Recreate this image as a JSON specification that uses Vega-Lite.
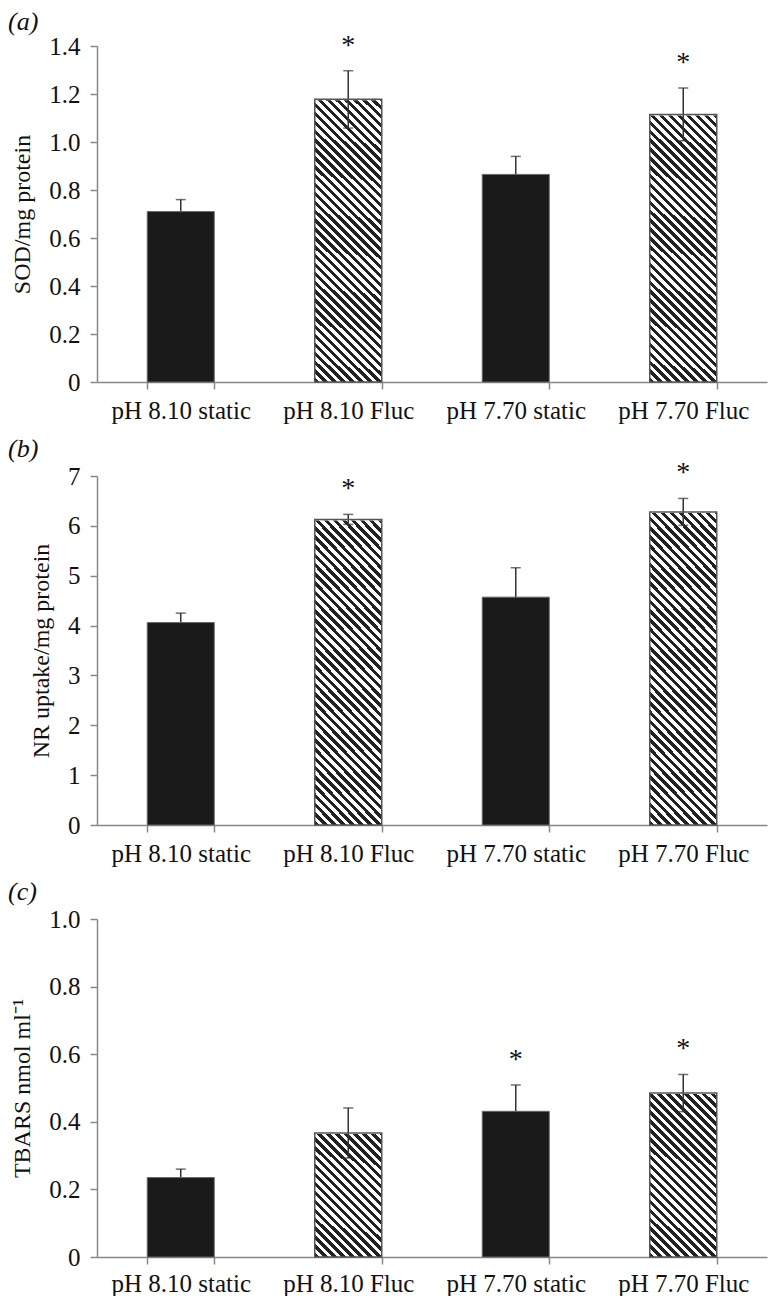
{
"$schema": "https://vega.github.io/schema/vega-lite/v6.json",
"padding": {"left": 8, "top": 8, "right": 3, "bottom": 0},
"params": [{"name": "hatch", "value": {"gradient": "linear", "x1": 0, "y1": 1, "x2": 0.2507, "y2": -0.2723, "stops": [
{"offset":0,"color":"#222"},{"offset":0.01,"color":"#222"},{"offset":0.01,"color":"#fff"},{"offset":0.02,"color":"#fff"},
{"offset":0.02,"color":"#222"},{"offset":0.03,"color":"#222"},{"offset":0.03,"color":"#fff"},{"offset":0.04,"color":"#fff"},
{"offset":0.04,"color":"#222"},{"offset":0.05,"color":"#222"},{"offset":0.05,"color":"#fff"},{"offset":0.06,"color":"#fff"},
{"offset":0.06,"color":"#222"},{"offset":0.07,"color":"#222"},{"offset":0.07,"color":"#fff"},{"offset":0.08,"color":"#fff"},
{"offset":0.08,"color":"#222"},{"offset":0.09,"color":"#222"},{"offset":0.09,"color":"#fff"},{"offset":0.10,"color":"#fff"},
{"offset":0.10,"color":"#222"},{"offset":0.11,"color":"#222"},{"offset":0.11,"color":"#fff"},{"offset":0.12,"color":"#fff"},
{"offset":0.12,"color":"#222"},{"offset":0.13,"color":"#222"},{"offset":0.13,"color":"#fff"},{"offset":0.14,"color":"#fff"},
{"offset":0.14,"color":"#222"},{"offset":0.15,"color":"#222"},{"offset":0.15,"color":"#fff"},{"offset":0.16,"color":"#fff"},
{"offset":0.16,"color":"#222"},{"offset":0.17,"color":"#222"},{"offset":0.17,"color":"#fff"},{"offset":0.18,"color":"#fff"},
{"offset":0.18,"color":"#222"},{"offset":0.19,"color":"#222"},{"offset":0.19,"color":"#fff"},{"offset":0.20,"color":"#fff"},
{"offset":0.20,"color":"#222"},{"offset":0.21,"color":"#222"},{"offset":0.21,"color":"#fff"},{"offset":0.22,"color":"#fff"},
{"offset":0.22,"color":"#222"},{"offset":0.23,"color":"#222"},{"offset":0.23,"color":"#fff"},{"offset":0.24,"color":"#fff"},
{"offset":0.24,"color":"#222"},{"offset":0.25,"color":"#222"},{"offset":0.25,"color":"#fff"},{"offset":0.26,"color":"#fff"},
{"offset":0.26,"color":"#222"},{"offset":0.27,"color":"#222"},{"offset":0.27,"color":"#fff"},{"offset":0.28,"color":"#fff"},
{"offset":0.28,"color":"#222"},{"offset":0.29,"color":"#222"},{"offset":0.29,"color":"#fff"},{"offset":0.30,"color":"#fff"},
{"offset":0.30,"color":"#222"},{"offset":0.31,"color":"#222"},{"offset":0.31,"color":"#fff"},{"offset":0.32,"color":"#fff"},
{"offset":0.32,"color":"#222"},{"offset":0.33,"color":"#222"},{"offset":0.33,"color":"#fff"},{"offset":0.34,"color":"#fff"},
{"offset":0.34,"color":"#222"},{"offset":0.35,"color":"#222"},{"offset":0.35,"color":"#fff"},{"offset":0.36,"color":"#fff"},
{"offset":0.36,"color":"#222"},{"offset":0.37,"color":"#222"},{"offset":0.37,"color":"#fff"},{"offset":0.38,"color":"#fff"},
{"offset":0.38,"color":"#222"},{"offset":0.39,"color":"#222"},{"offset":0.39,"color":"#fff"},{"offset":0.40,"color":"#fff"},
{"offset":0.40,"color":"#222"},{"offset":0.41,"color":"#222"},{"offset":0.41,"color":"#fff"},{"offset":0.42,"color":"#fff"},
{"offset":0.42,"color":"#222"},{"offset":0.43,"color":"#222"},{"offset":0.43,"color":"#fff"},{"offset":0.44,"color":"#fff"},
{"offset":0.44,"color":"#222"},{"offset":0.45,"color":"#222"},{"offset":0.45,"color":"#fff"},{"offset":0.46,"color":"#fff"},
{"offset":0.46,"color":"#222"},{"offset":0.47,"color":"#222"},{"offset":0.47,"color":"#fff"},{"offset":0.48,"color":"#fff"},
{"offset":0.48,"color":"#222"},{"offset":0.49,"color":"#222"},{"offset":0.49,"color":"#fff"},{"offset":0.50,"color":"#fff"},
{"offset":0.50,"color":"#222"},{"offset":0.51,"color":"#222"},{"offset":0.51,"color":"#fff"},{"offset":0.52,"color":"#fff"},
{"offset":0.52,"color":"#222"},{"offset":0.53,"color":"#222"},{"offset":0.53,"color":"#fff"},{"offset":0.54,"color":"#fff"},
{"offset":0.54,"color":"#222"},{"offset":0.55,"color":"#222"},{"offset":0.55,"color":"#fff"},{"offset":0.56,"color":"#fff"},
{"offset":0.56,"color":"#222"},{"offset":0.57,"color":"#222"},{"offset":0.57,"color":"#fff"},{"offset":0.58,"color":"#fff"},
{"offset":0.58,"color":"#222"},{"offset":0.59,"color":"#222"},{"offset":0.59,"color":"#fff"},{"offset":0.60,"color":"#fff"},
{"offset":0.60,"color":"#222"},{"offset":0.61,"color":"#222"},{"offset":0.61,"color":"#fff"},{"offset":0.62,"color":"#fff"},
{"offset":0.62,"color":"#222"},{"offset":0.63,"color":"#222"},{"offset":0.63,"color":"#fff"},{"offset":0.64,"color":"#fff"},
{"offset":0.64,"color":"#222"},{"offset":0.65,"color":"#222"},{"offset":0.65,"color":"#fff"},{"offset":0.66,"color":"#fff"},
{"offset":0.66,"color":"#222"},{"offset":0.67,"color":"#222"},{"offset":0.67,"color":"#fff"},{"offset":0.68,"color":"#fff"},
{"offset":0.68,"color":"#222"},{"offset":0.69,"color":"#222"},{"offset":0.69,"color":"#fff"},{"offset":0.70,"color":"#fff"},
{"offset":0.70,"color":"#222"},{"offset":0.71,"color":"#222"},{"offset":0.71,"color":"#fff"},{"offset":0.72,"color":"#fff"},
{"offset":0.72,"color":"#222"},{"offset":0.73,"color":"#222"},{"offset":0.73,"color":"#fff"},{"offset":0.74,"color":"#fff"},
{"offset":0.74,"color":"#222"},{"offset":0.75,"color":"#222"},{"offset":0.75,"color":"#fff"},{"offset":0.76,"color":"#fff"},
{"offset":0.76,"color":"#222"},{"offset":0.77,"color":"#222"},{"offset":0.77,"color":"#fff"},{"offset":0.78,"color":"#fff"},
{"offset":0.78,"color":"#222"},{"offset":0.79,"color":"#222"},{"offset":0.79,"color":"#fff"},{"offset":0.80,"color":"#fff"},
{"offset":0.80,"color":"#222"},{"offset":0.81,"color":"#222"},{"offset":0.81,"color":"#fff"},{"offset":0.82,"color":"#fff"},
{"offset":0.82,"color":"#222"},{"offset":0.83,"color":"#222"},{"offset":0.83,"color":"#fff"},{"offset":0.84,"color":"#fff"},
{"offset":0.84,"color":"#222"},{"offset":0.85,"color":"#222"},{"offset":0.85,"color":"#fff"},{"offset":0.86,"color":"#fff"},
{"offset":0.86,"color":"#222"},{"offset":0.87,"color":"#222"},{"offset":0.87,"color":"#fff"},{"offset":0.88,"color":"#fff"},
{"offset":0.88,"color":"#222"},{"offset":0.89,"color":"#222"},{"offset":0.89,"color":"#fff"},{"offset":0.90,"color":"#fff"},
{"offset":0.90,"color":"#222"},{"offset":0.91,"color":"#222"},{"offset":0.91,"color":"#fff"},{"offset":0.92,"color":"#fff"},
{"offset":0.92,"color":"#222"},{"offset":0.93,"color":"#222"},{"offset":0.93,"color":"#fff"},{"offset":0.94,"color":"#fff"},
{"offset":0.94,"color":"#222"},{"offset":0.95,"color":"#222"},{"offset":0.95,"color":"#fff"},{"offset":0.96,"color":"#fff"},
{"offset":0.96,"color":"#222"},{"offset":0.97,"color":"#222"},{"offset":0.97,"color":"#fff"},{"offset":0.98,"color":"#fff"},
{"offset":0.98,"color":"#222"},{"offset":0.99,"color":"#222"},{"offset":0.99,"color":"#fff"},{"offset":1,"color":"#fff"}
]}}],
"datasets": {
"sod": [
{"cat":"pH 8.10 static","type":"static","value":0.71,"lo":0.66,"hi":0.76,"sig":""},
{"cat":"pH 8.10 Fluc","type":"Fluc","value":1.178,"lo":1.058,"hi":1.297,"sig":"*"},
{"cat":"pH 7.70 static","type":"static","value":0.865,"lo":0.79,"hi":0.94,"sig":""},
{"cat":"pH 7.70 Fluc","type":"Fluc","value":1.115,"lo":1.005,"hi":1.225,"sig":"*"}
],
"nr": [
{"cat":"pH 8.10 static","type":"static","value":4.06,"lo":3.87,"hi":4.25,"sig":""},
{"cat":"pH 8.10 Fluc","type":"Fluc","value":6.13,"lo":6.03,"hi":6.23,"sig":"*"},
{"cat":"pH 7.70 static","type":"static","value":4.57,"lo":3.98,"hi":5.16,"sig":""},
{"cat":"pH 7.70 Fluc","type":"Fluc","value":6.28,"lo":6.01,"hi":6.55,"sig":"*"}
],
"tbars": [
{"cat":"pH 8.10 static","type":"static","value":0.235,"lo":0.21,"hi":0.26,"sig":""},
{"cat":"pH 8.10 Fluc","type":"Fluc","value":0.367,"lo":0.293,"hi":0.441,"sig":""},
{"cat":"pH 7.70 static","type":"static","value":0.431,"lo":0.353,"hi":0.509,"sig":"*"},
{"cat":"pH 7.70 Fluc","type":"Fluc","value":0.485,"lo":0.43,"hi":0.54,"sig":"*"}
]
},
"vconcat": [
{
"width": 670, "height": 336,
"data": {"name": "sod"},
"title": {"text": "(a)"},
"encoding": {"x": {"field": "cat", "type": "nominal", "sort": ["pH 8.10 static","pH 8.10 Fluc","pH 7.70 static","pH 7.70 Fluc"], "scale": {"paddingInner": 0.6, "paddingOuter": 0.3}, "axis": {"title": null, "labelAngle": 0, "tickBand": "extent", "labelPadding": 9}}},
"layer": [
{"transform": [{"filter": "datum.type === 'Fluc'"}], "mark": {"type": "bar", "fill": {"expr": "hatch"}, "strokeWidth": 0}, "encoding": {"y": {"datum": 0, "type": "quantitative", "scale": {"domain": [0, 1.4], "nice": false}, "axis": {"title": "SOD/mg protein", "values": [0,0.2,0.4,0.6,0.8,1.0,1.2,1.4], "labelExpr": "datum.value == 0 ? '0' : format(datum.value, '.1f')"}}, "y2": {"datum": 1.4}}},
{"transform": [{"filter": "datum.type === 'Fluc'"}], "mark": {"type": "bar", "fill": "#ffffff", "stroke": "#ffffff", "strokeWidth": 2}, "encoding": {"y": {"field": "value", "type": "quantitative"}, "y2": {"datum": 1.4}}},
{"mark": {"type": "rule", "color": "#333", "strokeWidth": 1.5}, "encoding": {"y": {"field": "lo", "type": "quantitative"}, "y2": {"field": "hi"}}},
{"mark": {"type": "tick", "color": "#333", "size": 10, "thickness": 1.5}, "encoding": {"y": {"field": "hi", "type": "quantitative"}}},
{"mark": {"type": "tick", "color": "#333", "size": 10, "thickness": 1.5}, "encoding": {"y": {"field": "lo", "type": "quantitative"}}},
{"transform": [{"filter": "datum.type === 'static'"}], "mark": {"type": "bar", "fill": "#1a1a1a", "stroke": "#666", "strokeWidth": 1}, "encoding": {"y": {"field": "value", "type": "quantitative"}}},
{"transform": [{"filter": "datum.type === 'Fluc'"}], "mark": {"type": "bar", "fillOpacity": 0, "stroke": "#555", "strokeWidth": 1.5}, "encoding": {"y": {"field": "value", "type": "quantitative"}}},
{"mark": {"type": "text", "dy": -25, "fontSize": 28, "font": "Times New Roman, Liberation Serif, serif", "color": "#111"}, "encoding": {"y": {"field": "hi", "type": "quantitative"}, "text": {"field": "sig"}}}
]
},
{
"width": 670, "height": 349,
"data": {"name": "nr"},
"title": {"text": "(b)"},
"encoding": {"x": {"field": "cat", "type": "nominal", "sort": ["pH 8.10 static","pH 8.10 Fluc","pH 7.70 static","pH 7.70 Fluc"], "scale": {"paddingInner": 0.6, "paddingOuter": 0.3}, "axis": {"title": null, "labelAngle": 0, "tickBand": "extent", "labelPadding": 9}}},
"layer": [
{"transform": [{"filter": "datum.type === 'Fluc'"}], "mark": {"type": "bar", "fill": {"expr": "hatch"}, "strokeWidth": 0}, "encoding": {"y": {"datum": 0, "type": "quantitative", "scale": {"domain": [0, 7], "nice": false}, "axis": {"title": "NR uptake/mg protein", "values": [0,1,2,3,4,5,6,7], "format": "d"}}, "y2": {"datum": 7}}},
{"transform": [{"filter": "datum.type === 'Fluc'"}], "mark": {"type": "bar", "fill": "#ffffff", "stroke": "#ffffff", "strokeWidth": 2}, "encoding": {"y": {"field": "value", "type": "quantitative"}, "y2": {"datum": 7}}},
{"mark": {"type": "rule", "color": "#333", "strokeWidth": 1.5}, "encoding": {"y": {"field": "lo", "type": "quantitative"}, "y2": {"field": "hi"}}},
{"mark": {"type": "tick", "color": "#333", "size": 10, "thickness": 1.5}, "encoding": {"y": {"field": "hi", "type": "quantitative"}}},
{"mark": {"type": "tick", "color": "#333", "size": 10, "thickness": 1.5}, "encoding": {"y": {"field": "lo", "type": "quantitative"}}},
{"transform": [{"filter": "datum.type === 'static'"}], "mark": {"type": "bar", "fill": "#1a1a1a", "stroke": "#666", "strokeWidth": 1}, "encoding": {"y": {"field": "value", "type": "quantitative"}}},
{"transform": [{"filter": "datum.type === 'Fluc'"}], "mark": {"type": "bar", "fillOpacity": 0, "stroke": "#555", "strokeWidth": 1.5}, "encoding": {"y": {"field": "value", "type": "quantitative"}}},
{"mark": {"type": "text", "dy": -25, "fontSize": 28, "font": "Times New Roman, Liberation Serif, serif", "color": "#111"}, "encoding": {"y": {"field": "hi", "type": "quantitative"}, "text": {"field": "sig"}}}
]
},
{
"width": 670, "height": 338,
"data": {"name": "tbars"},
"title": {"text": "(c)", "offset": 2},
"encoding": {"x": {"field": "cat", "type": "nominal", "sort": ["pH 8.10 static","pH 8.10 Fluc","pH 7.70 static","pH 7.70 Fluc"], "scale": {"paddingInner": 0.6, "paddingOuter": 0.3}, "axis": {"title": null, "labelAngle": 0, "tickBand": "extent", "labelPadding": 7}}},
"layer": [
{"transform": [{"filter": "datum.type === 'Fluc'"}], "mark": {"type": "bar", "fill": {"expr": "hatch"}, "strokeWidth": 0}, "encoding": {"y": {"datum": 0, "type": "quantitative", "scale": {"domain": [0, 1], "nice": false}, "axis": {"title": "TBARS nmol ml⁻¹", "values": [0,0.1,0.2,0.3,0.4,0.5,0.6,0.7,0.8,0.9,1.0], "labelExpr": "datum.value == 0 ? '0' : (round(datum.value * 10) % 2 == 1 ? '' : format(datum.value, '.1f'))"}}, "y2": {"datum": 1}}},
{"transform": [{"filter": "datum.type === 'Fluc'"}], "mark": {"type": "bar", "fill": "#ffffff", "stroke": "#ffffff", "strokeWidth": 2}, "encoding": {"y": {"field": "value", "type": "quantitative"}, "y2": {"datum": 1}}},
{"mark": {"type": "rule", "color": "#333", "strokeWidth": 1.5}, "encoding": {"y": {"field": "lo", "type": "quantitative"}, "y2": {"field": "hi"}}},
{"mark": {"type": "tick", "color": "#333", "size": 10, "thickness": 1.5}, "encoding": {"y": {"field": "hi", "type": "quantitative"}}},
{"mark": {"type": "tick", "color": "#333", "size": 10, "thickness": 1.5}, "encoding": {"y": {"field": "lo", "type": "quantitative"}}},
{"transform": [{"filter": "datum.type === 'static'"}], "mark": {"type": "bar", "fill": "#1a1a1a", "stroke": "#666", "strokeWidth": 1}, "encoding": {"y": {"field": "value", "type": "quantitative"}}},
{"transform": [{"filter": "datum.type === 'Fluc'"}], "mark": {"type": "bar", "fillOpacity": 0, "stroke": "#555", "strokeWidth": 1.5}, "encoding": {"y": {"field": "value", "type": "quantitative"}}},
{"mark": {"type": "text", "dy": -25, "fontSize": 28, "font": "Times New Roman, Liberation Serif, serif", "color": "#111"}, "encoding": {"y": {"field": "hi", "type": "quantitative"}, "text": {"field": "sig"}}}
]
}
],
"spacing": 13,
"config": {
"view": {"stroke": null},
"font": "Times New Roman, Liberation Serif, serif",
"axis": {"domainColor": "#888", "domainWidth": 1.5, "tickColor": "#888", "tickWidth": 1.5, "tickSize": 7, "grid": false, "labelFont": "Times New Roman, Liberation Serif, serif", "labelFontSize": 25, "labelColor": "#111", "titleFont": "Times New Roman, Liberation Serif, serif", "titleFontSize": 24, "titleFontWeight": "normal", "titleColor": "#111"},
"axisY": {"labelPadding": 10, "titlePadding": 14, "labelFontSize": 25},
"title": {"font": "Times New Roman, Liberation Serif, serif", "fontSize": 26, "fontWeight": "normal", "fontStyle": "italic", "anchor": "start", "frame": "group", "dx": -89, "offset": -3, "color": "#111"}
}
}
